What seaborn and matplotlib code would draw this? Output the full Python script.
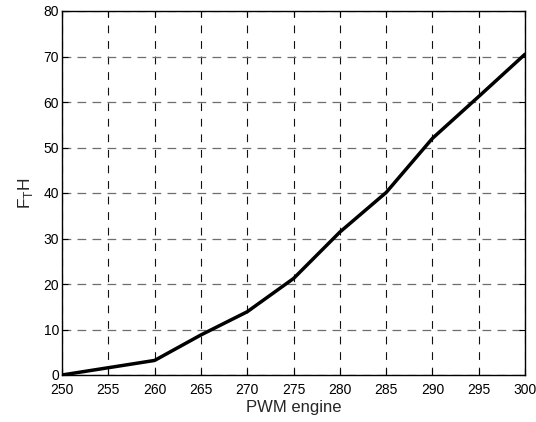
import matplotlib
matplotlib.use("Agg")
import matplotlib.pyplot as plt
import seaborn as sns
import pandas as pd

pwm = [250, 255, 260, 265, 270, 275, 280, 285, 290, 295, 300]
fth = [0.0, 1.6, 3.2, 8.8, 13.9, 21.2, 31.4, 40.1, 52.0, 61.2, 70.5]
x_ticks = [250, 255, 260, 265, 270, 275, 280, 285, 290, 295, 300]
y_ticks = [0, 10, 20, 30, 40, 50, 60, 70, 80]

sns.set_style("white")
plt.rcParams['font.family'] = ['Liberation Sans', 'DejaVu Sans']

df = pd.DataFrame({"pwm": pwm, "fth": fth})
fig = plt.figure(figsize=(5.36, 4.22), dpi=100)
ax = fig.add_axes([62/536, 1-375/422, (525-62)/536, (375-11)/422])
sns.lineplot(data=df, x="pwm", y="fth", ax=ax, color="black", linewidth=2.5)
ax.set_xlim(250, 300)
ax.set_ylim(0, 80)
ax.set_xticks(x_ticks)
ax.set_yticks(y_ticks)
ax.tick_params(direction="in", length=4, width=0.8, labelsize=10, top=True, right=True,
               bottom=True, left=True, colors="black")
ax.tick_params(axis="x", pad=6)
ax.tick_params(axis="y", pad=2)
for s in ax.spines.values():
    s.set_color("black")
    s.set_linewidth(1.0)
ax.xaxis.grid(True, linestyle=(0, (7, 7)), color="#111111", linewidth=0.8)
ax.yaxis.grid(True, linestyle=(0, (7, 5)), color="#6e6e6e", linewidth=0.9)
ax.set_axisbelow(True)
ax.set_xlabel("PWM engine", fontsize=12, labelpad=2)
ax.set_ylabel(r"F$_\mathregular{T}$H", fontsize=12.5, labelpad=6)
fig.savefig("out.png", dpi=100)
